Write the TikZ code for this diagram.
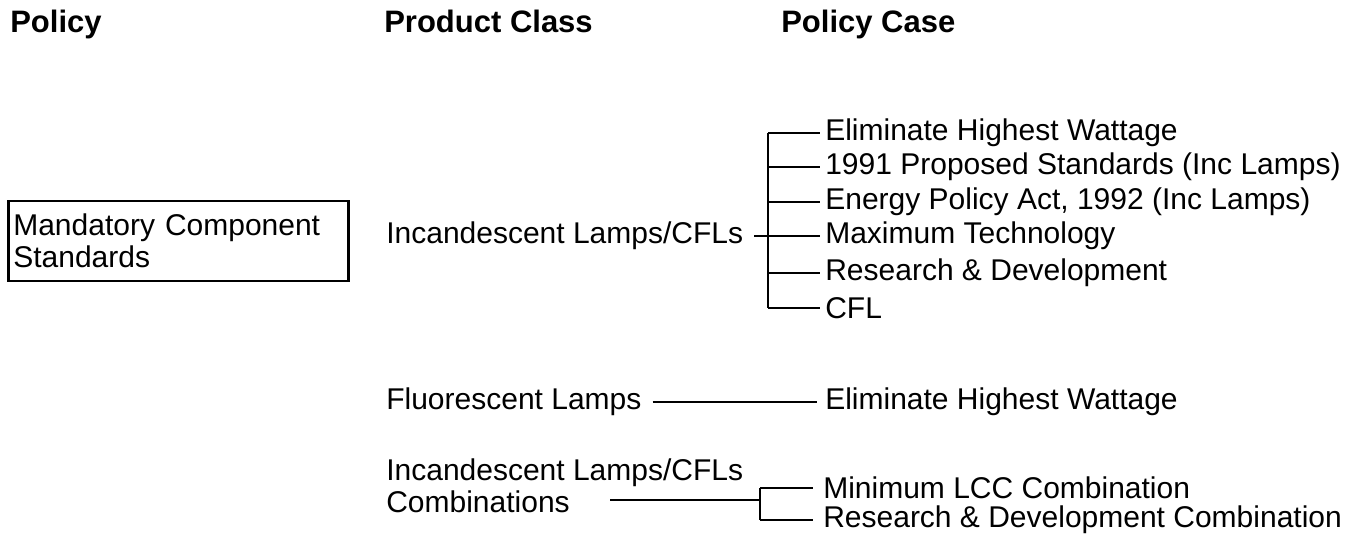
\documentclass[tikz,border=0pt]{standalone}
\usepackage{fontspec}
\setmainfont{Liberation Sans}
\begin{document}
\begin{tikzpicture}[x=0.5pt,y=-0.5pt,line width=1.3pt,
    every node/.style={font=\fontsize{15}{16}\selectfont,inner sep=0pt,anchor=west},
    head/.style={font=\fontsize{15.5}{16}\selectfont\bfseries,anchor=base west},
    policybox/.style={draw,align=left,text width=165pt,inner xsep=2.5pt,inner ysep=6.5pt}]
    \useasboundingbox (0,0) rectangle (1371,539);

    % column heads
    \node[head] (hpolicy) at (9,33) {Policy};
    \node[head] (hclass) at (383,33) {Product Class};
    \node[head] (hcase) at (780,33) {Policy Case};

    % policy
    \node[policybox] (mcs) at (7,241) {Mandatory Component\\Standards};

    % incandescent lamps
    \node (inc) at (385,236) {Incandescent Lamps/CFLs};
    \coordinate (bj) at (768,236);
    \node (case1) at (824,133) {Eliminate Highest Wattage};
    \node (case2) at (824,167) {1991 Proposed Standards (Inc Lamps)};
    \node (case3) at (824,202) {Energy Policy Act, 1992 (Inc Lamps)};
    \node (case4) at (824,236) {Maximum Technology};
    \node (case5) at (824,273) {Research \& Development};
    \node (case6) at (824,308) {CFL};

    \draw[shorten <=5pt] (inc) -- (bj);
    \draw (case1.west -| bj) -- (case6.west -| bj);
    \draw[shorten >=2pt] (case1.west -| bj) -- (case1.west);
    \draw[shorten >=2pt] (case2.west -| bj) -- (case2.west);
    \draw[shorten >=2pt] (case3.west -| bj) -- (case3.west);
    \draw[shorten >=2pt] (bj) -- (case4.west);
    \draw[shorten >=2pt] (case5.west -| bj) -- (case5.west);
    \draw[shorten >=2pt] (case6.west -| bj) -- (case6.west);

    % fluorescent lamps
    \node (fluo) at (385,402) {Fluorescent Lamps};
    \node (fcase) at (824,402) {Eliminate Highest Wattage};
    \draw[shorten <=5pt,shorten >=3.5pt] (fluo) -- (fcase);

    % combinations
    \node[align=left] (comb) at (385,486) {Incandescent Lamps/CFLs\\Combinations};
    \coordinate (cs) at (610,500);
    \coordinate (cj) at (760,500);
    \node (lcc) at (822,488) {Minimum LCC Combination};
    \node (rdc) at (822,520) {Research \& Development Combination};

    \draw (cs) -- (cj);
    \draw (lcc.west -| cj) -- (rdc.west -| cj);
    \draw[shorten >=4.5pt] (lcc.west -| cj) -- (lcc.west);
    \draw[shorten >=4.5pt] (rdc.west -| cj) -- (rdc.west);
\end{tikzpicture}
\end{document}
